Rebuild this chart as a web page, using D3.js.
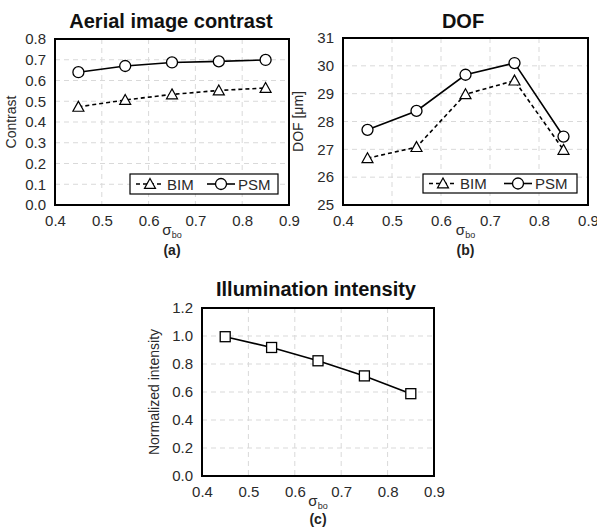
<!DOCTYPE html>
<html><head><meta charset="utf-8">
<script src="https://cdn.jsdelivr.net/npm/d3@7"></script>
<style>body{margin:0;background:#fff;font-family:"Liberation Sans",Arial,sans-serif}</style>
</head><body>
<svg id="c" width="597" height="530"></svg>
<script>
const sigma = [0.45, 0.55, 0.65, 0.75, 0.85];
const contrastBIM = [0.473, 0.506, 0.533, 0.552, 0.564];
const contrastPSM = [0.640, 0.670, 0.687, 0.692, 0.699];
const dofBIM = [26.68, 27.08, 28.98, 29.47, 26.98];
const dofPSM = [27.70, 28.38, 29.68, 30.10, 27.46];
const intensity = [0.995, 0.918, 0.823, 0.715, 0.588];
const xTicks = [0.4, 0.5, 0.6, 0.7, 0.8, 0.9];
const contrastTicks = [0.0, 0.1, 0.2, 0.3, 0.4, 0.5, 0.6, 0.7, 0.8];
const dofTicks = [25, 26, 27, 28, 29, 30, 31];
const intensityTicks = [0.0, 0.2, 0.4, 0.6, 0.8, 1.0, 1.2];

const svg = d3.select("#c");
const tickColor = "#2a2a2a";

function marker(g, type, x, y) {
  if (type === "circle") {
    g.append("circle").attr("cx", x).attr("cy", y).attr("r", 5.5)
      .attr("fill", "#fff").attr("stroke", "#000").attr("stroke-width", 1.3);
  } else if (type === "triangle") {
    const s = 5.5;
    g.append("path").attr("d", `M${x},${y - s}L${x + s},${y + s * 0.8}L${x - s},${y + s * 0.8}Z`)
      .attr("fill", "#fff").attr("stroke", "#000").attr("stroke-width", 1.2);
  } else {
    const s = 5;
    g.append("rect").attr("x", x - s).attr("y", y - s).attr("width", 2 * s).attr("height", 2 * s)
      .attr("fill", "#fff").attr("stroke", "#000").attr("stroke-width", 1.3);
  }
}

function panel(o) {
  const g = svg.append("g");
  const x = d3.scaleLinear().domain([0.4, 0.9]).range([o.left, o.right]);
  const y = d3.scaleLinear().domain(o.yDomain).range([o.bottom, o.top]);
  g.append("g").selectAll("line").data(xTicks.slice(1, -1)).join("line")
    .attr("x1", d => x(d)).attr("x2", d => x(d)).attr("y1", o.top).attr("y2", o.bottom)
    .attr("stroke", "#d9d9d9").attr("stroke-dasharray", "5,4").attr("stroke-width", 1);
  g.append("g").selectAll("line").data(o.yTicks.slice(1, -1)).join("line")
    .attr("x1", o.left).attr("x2", o.right).attr("y1", d => y(d)).attr("y2", d => y(d))
    .attr("stroke", "#d9d9d9").attr("stroke-dasharray", "5,4").attr("stroke-width", 1);
  const ax = g.append("g").attr("transform", `translate(0,${o.bottom})`)
    .call(d3.axisBottom(x).tickValues(xTicks).tickFormat(d3.format(".1f")).tickSize(0).tickPadding(10));
  const ay = g.append("g").attr("transform", `translate(${o.left},0)`)
    .call(d3.axisLeft(y).tickValues(o.yTicks).tickFormat(o.yFormat).tickSize(0).tickPadding(9));
  [ax, ay].forEach(a => {
    a.select(".domain").remove();
    a.selectAll("text").attr("font-size", 15).attr("fill", tickColor)
      .attr("font-family", "Liberation Sans, Arial, sans-serif");
  });
  g.append("rect").attr("x", o.left).attr("y", o.top).attr("width", o.right - o.left)
    .attr("height", o.bottom - o.top).attr("fill", "none").attr("stroke", "#000").attr("stroke-width", 2);
  o.series.forEach(s => {
    const line = d3.line().x((d, i) => x(sigma[i])).y(d => y(d));
    g.append("path").datum(s.values).attr("d", line).attr("fill", "none")
      .attr("stroke", "#000").attr("stroke-width", 1.6)
      .attr("stroke-dasharray", s.dashed ? "4,3" : null);
    s.values.forEach((v, i) => marker(g, s.marker, x(sigma[i]), y(v)));
  });
  g.append("text").attr("x", o.titleX).attr("y", o.titleY).attr("text-anchor", "middle")
    .attr("font-size", 20).attr("font-weight", "bold").attr("fill", "#111").text(o.title);
  g.append("text").attr("transform", `translate(${o.yTitleX},${(o.top + o.bottom) / 2}) rotate(-90)`)
    .attr("text-anchor", "middle").attr("font-size", 14).attr("fill", tickColor).text(o.yTitle);
  const xt = g.append("text").attr("x", (o.left + o.right) / 2).attr("y", o.bottom + 30)
    .attr("text-anchor", "middle").attr("font-size", 15).attr("fill", tickColor);
  xt.append("tspan").text("σ");
  xt.append("tspan").attr("font-size", 9).attr("dy", 3).text("bo");
  g.append("text").attr("x", (o.left + o.right) / 2).attr("y", o.bottom + o.labelDy)
    .attr("text-anchor", "middle").attr("font-size", 14).attr("font-weight", "bold").attr("fill", "#222").text(o.label);
  if (o.legend) {
    const L = o.legend;
    g.append("rect").attr("x", L.x).attr("y", L.y).attr("width", L.w).attr("height", L.h)
      .attr("fill", "#fff").attr("stroke", "#000").attr("stroke-width", 1.2);
    const cy = L.y + L.h / 2;
    const items = [
      { name: "BIM", marker: "triangle", dashed: true },
      { name: "PSM", marker: "circle", dashed: false }
    ];
    let cx = L.x + 6;
    items.forEach(it => {
      g.append("line").attr("x1", cx).attr("x2", cx + 28).attr("y1", cy).attr("y2", cy)
        .attr("stroke", "#000").attr("stroke-width", 1.6).attr("stroke-dasharray", it.dashed ? "4,3" : null);
      marker(g, it.marker, cx + 14, cy);
      g.append("text").attr("x", cx + 31).attr("y", cy + 5.5).attr("font-size", 15).attr("fill", tickColor).text(it.name);
      cx += L.step;
    });
  }
}

panel({
  left: 55, right: 289, top: 39, bottom: 205,
  yDomain: [0, 0.8], yTicks: contrastTicks, yFormat: d3.format(".1f"),
  series: [
    { values: contrastBIM, marker: "triangle", dashed: true },
    { values: contrastPSM, marker: "circle", dashed: false }
  ],
  title: "Aerial image contrast", titleX: 171, titleY: 28,
  yTitle: "Contrast", yTitleX: 16, label: "(a)", labelDy: 50,
  legend: { x: 130, y: 174, w: 148, h: 20, step: 71 }
});

panel({
  left: 343, right: 588, top: 38, bottom: 205,
  yDomain: [25, 31], yTicks: dofTicks, yFormat: d3.format("d"),
  series: [
    { values: dofBIM, marker: "triangle", dashed: true },
    { values: dofPSM, marker: "circle", dashed: false }
  ],
  title: "DOF", titleX: 463, titleY: 28,
  yTitle: "DOF [μm]", yTitleX: 303, label: "(b)", labelDy: 50,
  legend: { x: 423, y: 174, w: 154, h: 19, step: 75 }
});

panel({
  left: 202, right: 434, top: 308, bottom: 476,
  yDomain: [0, 1.2], yTicks: intensityTicks, yFormat: d3.format(".1f"),
  series: [
    { values: intensity, marker: "square", dashed: false }
  ],
  title: "Illumination intensity", titleX: 316, titleY: 296,
  yTitle: "Normalized intensity", yTitleX: 159, label: "(c)", labelDy: 48
});
</script>
</body></html>
